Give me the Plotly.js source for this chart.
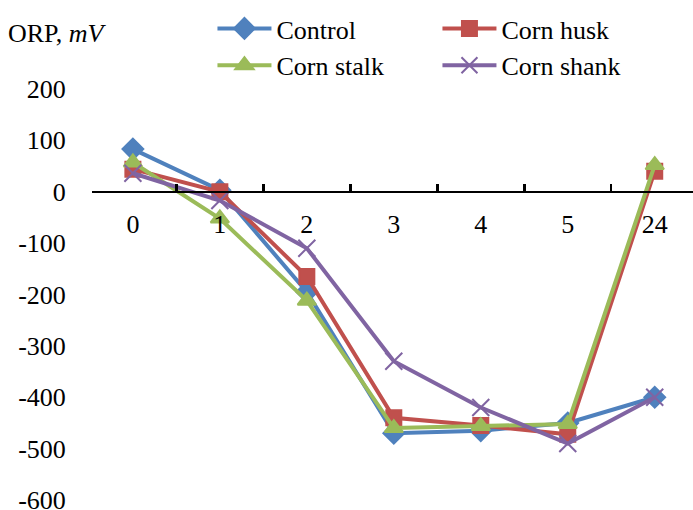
<!DOCTYPE html>
<html><head><meta charset="utf-8">
<script src="https://cdn.plot.ly/plotly-3.0.1.min.js"></script>
<style>body{margin:0;background:#fff}#chart{width:693px;height:510px}
#chart svg text{font-family:'Liberation Serif','Times New Roman',serif !important;}</style>
</head><body><div id="chart"></div>
<script>
const categories = ["0","1","2","3","4","5","24"];
const control   = [83, 3, -195, -470, -465, -450, -400];
const cornHusk  = [44, 0, -165, -440, -455, -472, 40];
const cornStalk = [57, -52, -212, -460, -456, -452, 52];
const cornShank = [36, -17, -110, -330, -420, -490, -400];
const seriesNames = ["Control","Corn husk","Corn stalk","Corn shank"];
const yTicks = [200,100,0,-100,-200,-300,-400,-500,-600];

const colors = ["#4F81BD","#C0504D","#9BBB59","#8064A2"];
const symbols = ["diamond","square","triangle-up","x-thin-open"];
const sizes = [16,15,16,17];
const data = [control, cornHusk, cornStalk, cornShank].map((v,i)=>({
  x: categories, y: v, type:"scatter", mode:"lines+markers", name: seriesNames[i],
  line:{color:colors[i], width:4},
  marker:{symbol:symbols[i], size:sizes[i], color:colors[i], line:{color:colors[i], width:2}}
}));

const FAM = "Liberation Serif";
const F = () => ({family:FAM, size:26, color:"#000"});
const layout = {
  width:693, height:510,
  margin:{l:92, r:0, t:84, b:10},
  paper_bgcolor:"#fff", plot_bgcolor:"#fff",
  font: F(),
  showlegend:true,
  legend:{orientation:"h", x:218/693 - 0.008, xanchor:"left", xref:"container",
          y:1 - 5/510, yanchor:"top", yref:"container",
          entrywidth:156, entrywidthmode:"pixels",
          font:F(), itemwidth:54, bgcolor:"rgba(0,0,0,0)"},
  xaxis:{type:"category", range:[-0.47, 6.44], anchor:"free", position:0.75,
         showline:true, linecolor:"#000", linewidth:2.5, ticks:"inside", tickson:"boundaries",
         ticklen:7, tickwidth:2.5, tickcolor:"#000", showgrid:false, zeroline:false,
         ticklabelstandoff:9, tickfont:F(), fixedrange:true},
  yaxis:{range:[-600,200], tickvals:yTicks, ticktext:yTicks.map(String),
         showline:false, ticks:"outside", ticklen:20, tickcolor:"rgba(0,0,0,0)",
         showgrid:false, zeroline:false, ticklabeloverflow:"allow",
         tickfont:F(), fixedrange:true},
  yaxis2:{range:[-600,200], overlaying:"y", side:"left", tickvals:yTicks,
         showline:true, linecolor:"#000", linewidth:2.5, ticks:"inside", ticklen:7,
         tickwidth:2.5, tickcolor:"#000", showgrid:false, zeroline:false,
         showticklabels:false, fixedrange:true},
  annotations:[{text:"ORP, <i>mV</i>", xref:"paper", yref:"paper",
    x:-86/601, y:1 + (84-28)/416, showarrow:false, xanchor:"left", yanchor:"middle", font:F()}]
};
Plotly.newPlot("chart", data, layout, {staticPlot:true});
</script></body></html>
